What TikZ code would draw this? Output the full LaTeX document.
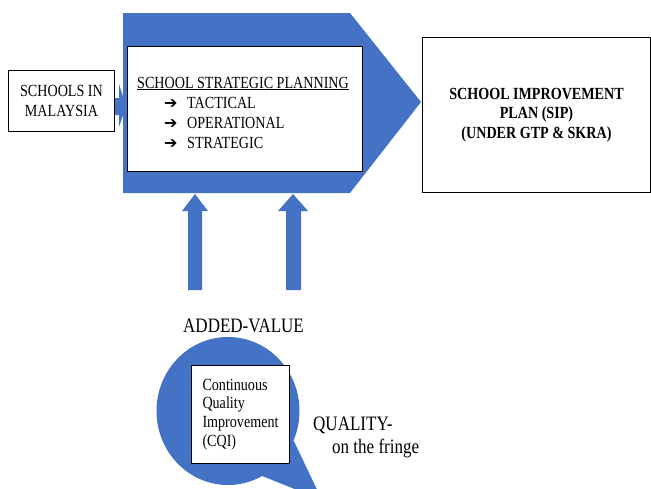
\documentclass[tikz,border=0pt]{standalone}
\usepackage{fontspec}
\setmainfont{Liberation Serif}[FakeStretch=0.83]
\newfontfamily\symfont{DejaVu Sans}
\usepackage{tikz}
\usetikzlibrary{shapes.callouts}
\definecolor{officeblue}{HTML}{4472C4}
\newcommand{\normaltext}{\fontsize{17}{19.5}\selectfont}
\newcommand{\cqitext}{\fontsize{17}{18.7}\selectfont}
\newcommand{\bigtext}{\fontsize{20.5}{23}\selectfont}
\tikzstyle{box} = [rectangle, draw=black, fill=white, line width=1pt, anchor=north west]
\tikzstyle{blockarrow} = [fill=officeblue]
\tikzstyle{txt} = [inner sep=0pt, anchor=base west, font=\normaltext]
\tikzstyle{bulletmark} = [inner sep=0pt, anchor=base west, font=\symfont\bfseries\fontsize{16}{16}\selectfont]

\begin{document}
\begin{tikzpicture}[x=1pt, y=-1pt]
\useasboundingbox (0,0) rectangle (651,488);
\clip (0,0) rectangle (651,488);

% BLUE SHAPES
\fill [officeblue] (123,13) -- (350,13) -- (421,102) -- (350,193) -- (123,193) -- cycle;
\node (cqi-bubble) [ellipse callout, fill=officeblue, minimum width=143, minimum height=148,
  callout absolute pointer={(322,500)}, callout pointer arc=38] at (228,411) {};

% NODES
\node (schools) [box, minimum width=106, minimum height=61, align=center, font=\normaltext] at (8,70) {SCHOOLS IN\\MALAYSIA};
\node (planning) [box, minimum width=235, minimum height=125] at (127,46) {};
\node (sip) [box, minimum width=228, minimum height=155, align=center, font=\normaltext\bfseries] at (422,37) {SCHOOL IMPROVEMENT\\PLAN (SIP)\\(UNDER GTP \& SKRA)};
\node (cqi) [box, minimum width=98, minimum height=98, text width=76, inner xsep=11, align=left, font=\cqitext] at (191,365) {Continuous\\Quality\\Improvement\\(CQI)};

\node (planning-title) [txt] at (137,88) {\underline{SCHOOL STRATEGIC PLANNING}};
\node (tactical-mark) [bulletmark] at (164,108) {➔};
\node (tactical) [txt] at (187,108) {TACTICAL};
\node (operational-mark) [bulletmark] at (164,128) {➔};
\node (operational) [txt] at (187,128) {OPERATIONAL};
\node (strategic-mark) [bulletmark] at (164,148) {➔};
\node (strategic) [txt] at (187,148) {STRATEGIC};

\node (added-value) [txt, font=\bigtext] at (183,332) {ADDED-VALUE};
\node (quality) [txt, font=\bigtext] at (313,430) {QUALITY-};
\node (fringe) [txt, font=\bigtext] at (332,453) {on the fringe};

% ARROWS
\fill [blockarrow] (schools.east |- 0,98) -- (119,98) -- (119,84) -- (126,106) -- (119,127) -- (119,115) -- (schools.east |- 0,115) -- cycle;
\fill [blockarrow] (188,290) -- (188,211) -- (182,211) -- (195,194) -- (208,211) -- (202,211) -- (202,290) -- cycle;
\fill [blockarrow] (286,290) -- (286,211) -- (278,211) -- (293,194) -- (308,211) -- (301,211) -- (301,290) -- cycle;
\end{tikzpicture}
\end{document}
